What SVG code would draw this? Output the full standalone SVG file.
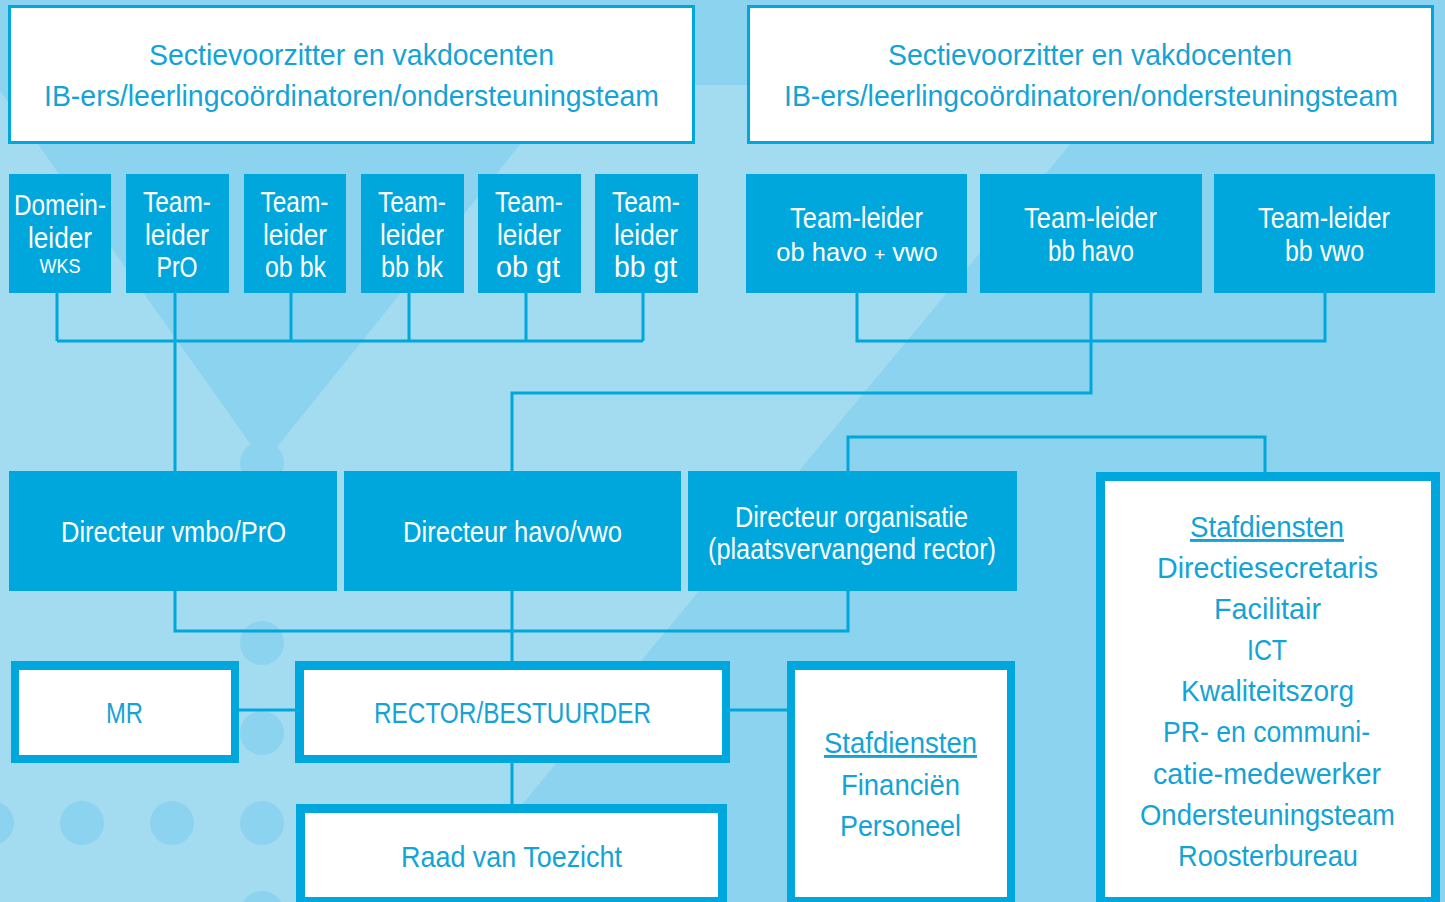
<svg xmlns="http://www.w3.org/2000/svg" width="1445" height="902" viewBox="0 0 1445 902">
<defs>
<style>
.bgl{fill:#a3dbf1}
.bgd{fill:#8cd3ef}
.tb{fill:#ffffff;stroke:#00a7dc;stroke-width:3}
.blk{fill:#00a7dc}
.wht{fill:#ffffff}
.con{fill:none;stroke:#00a7dc;stroke-width:3}
text{font-family:"Liberation Sans",Arial,sans-serif;font-size:29px;text-anchor:middle}
.w{fill:#ffffff}
.b{fill:#14a3d6}
.u{text-decoration:underline}
</style>
</defs>
<g id="background">
<rect class="bgl" x="0" y="0" width="1445" height="902"/>
<rect class="bgd" x="0" y="0" width="1445" height="85"/>
<polygon class="bgd" points="1190,0 1445,0 1445,902 441,902"/>
<polygon class="bgd" points="-4,85 568,85 264,463"/>
<circle class="bgd" cx="262" cy="463" r="22"/>
<circle class="bgd" cx="262" cy="553" r="22"/>
<circle class="bgd" cx="262" cy="643" r="22"/>
<circle class="bgd" cx="262" cy="733" r="22"/>
<circle class="bgd" cx="262" cy="823" r="22"/>
<circle class="bgd" cx="262" cy="913" r="22"/>
<circle class="bgd" cx="172" cy="823" r="22"/>
<circle class="bgd" cx="82" cy="823" r="22"/>
<circle class="bgd" cx="-8" cy="823" r="22"/>
</g>
<g id="connectors">
<path class="con" d="M57 293V341M175 293V471M291 293V341M409 293V341M526 293V341M643 293V341M57 341H643"/>
<path class="con" d="M857 293V341H1325V293M1091 293V393H512V471"/>
<path class="con" d="M848 471V437H1265V473"/>
<path class="con" d="M175 591V631H848V591M512 591V661"/>
<path class="con" d="M239 710H295M730 710H787M512 763V804"/>
</g>
<g id="sectie-links">
<rect class="tb" x="9.5" y="6.5" width="684" height="136"/>
<text class="b" x="351.5" y="65" textLength="405" lengthAdjust="spacingAndGlyphs">Sectievoorzitter en vakdocenten</text>
<text class="b" x="351.5" y="106" textLength="615" lengthAdjust="spacingAndGlyphs">IB-ers/leerlingcoördinatoren/ondersteuningsteam</text>
</g>
<g id="sectie-rechts">
<rect class="tb" x="748.5" y="6.5" width="684" height="136"/>
<text class="b" x="1090" y="65" textLength="404" lengthAdjust="spacingAndGlyphs">Sectievoorzitter en vakdocenten</text>
<text class="b" x="1091" y="106" textLength="614" lengthAdjust="spacingAndGlyphs">IB-ers/leerlingcoördinatoren/ondersteuningsteam</text>
</g>
<g id="domeinleider-wks">
<rect class="blk" x="9" y="174" width="102" height="119"/>
<text class="w" x="60" y="215" textLength="92" lengthAdjust="spacingAndGlyphs">Domein-</text>
<text class="w" x="60" y="248" textLength="64" lengthAdjust="spacingAndGlyphs">leider</text>
<text class="w" x="60" y="273" style="font-size:21px" textLength="41" lengthAdjust="spacingAndGlyphs">WKS</text>
</g>
<g id="teamleider-pro">
<rect class="blk" x="126" y="174" width="103" height="119"/>
<text class="w" x="177" y="212" textLength="68" lengthAdjust="spacingAndGlyphs">Team-</text>
<text class="w" x="177" y="245" textLength="64" lengthAdjust="spacingAndGlyphs">leider</text>
<text class="w" x="177" y="277" textLength="41" lengthAdjust="spacingAndGlyphs">PrO</text>
</g>
<g id="teamleider-ob-bk">
<rect class="blk" x="244" y="174" width="102" height="119"/>
<text class="w" x="294.5" y="212" textLength="68" lengthAdjust="spacingAndGlyphs">Team-</text>
<text class="w" x="295" y="245" textLength="64" lengthAdjust="spacingAndGlyphs">leider</text>
<text class="w" x="295.5" y="277" textLength="61" lengthAdjust="spacingAndGlyphs">ob bk</text>
</g>
<g id="teamleider-bb-bk">
<rect class="blk" x="361" y="174" width="103" height="119"/>
<text class="w" x="412" y="212" textLength="68" lengthAdjust="spacingAndGlyphs">Team-</text>
<text class="w" x="412" y="245" textLength="64" lengthAdjust="spacingAndGlyphs">leider</text>
<text class="w" x="412" y="277" textLength="62" lengthAdjust="spacingAndGlyphs">bb bk</text>
</g>
<g id="teamleider-ob-gt">
<rect class="blk" x="478" y="174" width="103" height="119"/>
<text class="w" x="529" y="212" textLength="68" lengthAdjust="spacingAndGlyphs">Team-</text>
<text class="w" x="529" y="245" textLength="64" lengthAdjust="spacingAndGlyphs">leider</text>
<text class="w" x="528" y="277" textLength="64" lengthAdjust="spacingAndGlyphs">ob gt</text>
</g>
<g id="teamleider-bb-gt">
<rect class="blk" x="595" y="174" width="103" height="119"/>
<text class="w" x="646" y="212" textLength="68" lengthAdjust="spacingAndGlyphs">Team-</text>
<text class="w" x="646" y="245" textLength="64" lengthAdjust="spacingAndGlyphs">leider</text>
<text class="w" x="645.5" y="277" textLength="63" lengthAdjust="spacingAndGlyphs">bb gt</text>
</g>
<g id="teamleider-ob-havo-vwo">
<rect class="blk" x="746" y="174" width="221" height="119"/>
<text class="w" x="856.5" y="228" textLength="133" lengthAdjust="spacingAndGlyphs">Team-leider</text>
<text class="w" x="857" y="261" style="font-size:25.5px">ob havo <tspan style="font-size:19px">+</tspan> vwo</text>
</g>
<g id="teamleider-bb-havo">
<rect class="blk" x="980" y="174" width="222" height="119"/>
<text class="w" x="1090.5" y="228" textLength="133" lengthAdjust="spacingAndGlyphs">Team-leider</text>
<text class="w" x="1091" y="261" textLength="86" lengthAdjust="spacingAndGlyphs">bb havo</text>
</g>
<g id="teamleider-bb-vwo">
<rect class="blk" x="1214" y="174" width="221" height="119"/>
<text class="w" x="1324" y="228" textLength="132" lengthAdjust="spacingAndGlyphs">Team-leider</text>
<text class="w" x="1324.5" y="261" textLength="79" lengthAdjust="spacingAndGlyphs">bb vwo</text>
</g>
<g id="directeur-vmbo-pro">
<rect class="blk" x="9" y="471" width="328" height="120"/>
<text class="w" x="173.5" y="542" textLength="225" lengthAdjust="spacingAndGlyphs">Directeur vmbo/PrO</text>
</g>
<g id="directeur-havo-vwo">
<rect class="blk" x="344" y="471" width="337" height="120"/>
<text class="w" x="512.5" y="542" textLength="219" lengthAdjust="spacingAndGlyphs">Directeur havo/vwo</text>
</g>
<g id="directeur-organisatie">
<rect class="blk" x="688" y="471" width="329" height="120"/>
<text class="w" x="851.5" y="527" textLength="233" lengthAdjust="spacingAndGlyphs">Directeur organisatie</text>
<text class="w" x="852" y="559" textLength="288" lengthAdjust="spacingAndGlyphs">(plaatsvervangend rector)</text>
</g>
<g id="mr">
<rect class="blk" x="11" y="661" width="228" height="102"/>
<rect class="wht" x="19" y="670" width="212" height="85"/>
<text class="b" x="124.5" y="723" textLength="37" lengthAdjust="spacingAndGlyphs">MR</text>
</g>
<g id="rector-bestuurder">
<rect class="blk" x="295" y="661" width="435" height="102"/>
<rect class="wht" x="304" y="670" width="418" height="85"/>
<text class="b" x="512.5" y="723" textLength="277" lengthAdjust="spacingAndGlyphs">RECTOR/BESTUURDER</text>
</g>
<g id="raad-van-toezicht">
<rect class="blk" x="296" y="804" width="431" height="98"/>
<rect class="wht" x="305" y="813" width="413" height="84"/>
<text class="b" x="511.5" y="867" textLength="221" lengthAdjust="spacingAndGlyphs">Raad van Toezicht</text>
</g>
<g id="stafdiensten-financien">
<rect class="blk" x="787" y="661" width="228" height="241"/>
<rect class="wht" x="795" y="670" width="212" height="227"/>
<text class="b u" x="900.5" y="753" textLength="153" lengthAdjust="spacingAndGlyphs">Stafdiensten</text>
<text class="b" x="900.5" y="795" textLength="119" lengthAdjust="spacingAndGlyphs">Financiën</text>
<text class="b" x="900.5" y="836" textLength="121" lengthAdjust="spacingAndGlyphs">Personeel</text>
</g>
<g id="stafdiensten-algemeen">
<rect class="blk" x="1096" y="472" width="344" height="430"/>
<rect class="wht" x="1105" y="481" width="326" height="416"/>
<text class="b u" x="1267" y="537" textLength="154" lengthAdjust="spacingAndGlyphs">Stafdiensten</text>
<text class="b" x="1267.5" y="578" textLength="221" lengthAdjust="spacingAndGlyphs">Directiesecretaris</text>
<text class="b" x="1267.5" y="619" textLength="107" lengthAdjust="spacingAndGlyphs">Facilitair</text>
<text class="b" x="1267" y="660" textLength="40" lengthAdjust="spacingAndGlyphs">ICT</text>
<text class="b" x="1267.5" y="701" textLength="173" lengthAdjust="spacingAndGlyphs">Kwaliteitszorg</text>
<text class="b" x="1266.5" y="742" textLength="207" lengthAdjust="spacingAndGlyphs">PR- en communi-</text>
<text class="b" x="1267" y="784" textLength="228" lengthAdjust="spacingAndGlyphs">catie-medewerker</text>
<text class="b" x="1267.5" y="825" textLength="255" lengthAdjust="spacingAndGlyphs">Ondersteuningsteam</text>
<text class="b" x="1268" y="866" textLength="180" lengthAdjust="spacingAndGlyphs">Roosterbureau</text>
</g>
</svg>
